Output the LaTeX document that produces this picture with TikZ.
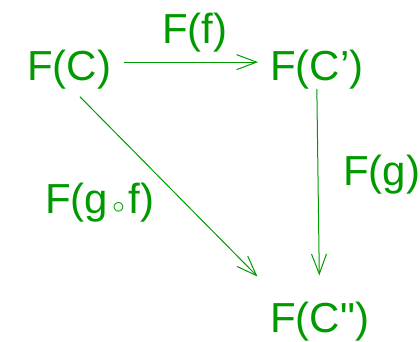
\documentclass[tikz,border=0pt]{standalone}
\usepackage{fontspec}
\setmainfont{Liberation Sans}[Ligatures=TeXOff]
\usetikzlibrary{positioning, calc, arrows.meta}
\definecolor{catgreen}{RGB}{0,153,0}
\tikzset{
  obj/.style={inner sep=0pt, anchor=base west, text=catgreen, font=\fontsize{42}{48}\selectfont},
  arr/.style={-{Straight Barb[length=20pt, width=15pt]}, catgreen, line width=1pt}
}
\begin{document}
\begin{tikzpicture}[x=1pt, y=-1pt]
        % Fix the frame
        \useasboundingbox (0,0) rectangle (420,341);
        
        % Objects
        \node[obj] (fc) at (27,80) {F(C)};
        \node[obj] (fcp) at (270,80) {F(C’)};
        \node[obj] (fcpp) at (270,332) {F(C")};
        
        % Labels of the morphisms
        \node[obj] (lf) at (162,43) {F(f)};
        \node[obj] (lg) at (343,185) {F(g)};
        \node[obj] (lgf) at (45,213) {F(g$\,\circ\,$f)};
        
        % Arrows
        \draw[arr, shorten <=13pt, shorten >=12pt] ([yshift=7pt]fc.east) -- ([yshift=7pt]fcp.west);
        \draw[arr, shorten >=26pt] (fcp.south) -- (fcpp.north);
        \draw[arr, shorten <=11pt, shorten >=35pt] ([xshift=3pt]fc.south) -- ([xshift=12pt]fcpp.north west);
    \end{tikzpicture}
\end{document}
